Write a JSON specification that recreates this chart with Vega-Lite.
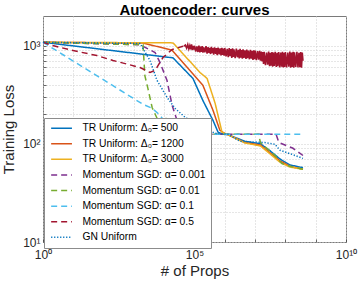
{
  "$schema": "https://vega.github.io/schema/vega-lite/v6.json",
  "width": 303,
  "height": 226,
  "autosize": {"type": "none"},
  "padding": {"left": 43, "top": 16, "right": 14, "bottom": 45},
  "title": {"text": "Autoencoder: curves", "fontSize": 15, "fontWeight": "bold", "color": "#000000", "anchor": "middle", "frame": "group", "baseline": "alphabetic", "offset": -14, "font": "Liberation Sans"},
  "datasets": {
    "lines": [
      {"s": "TR Uniform: Δ₀= 500", "x": 1, "y": 1080},
      {"s": "TR Uniform: Δ₀= 500", "x": 19500, "y": 750},
      {"s": "TR Uniform: Δ₀= 500", "x": 89000, "y": 462},
      {"s": "TR Uniform: Δ₀= 500", "x": 190000, "y": 275},
      {"s": "TR Uniform: Δ₀= 500", "x": 408000, "y": 173},
      {"s": "TR Uniform: Δ₀= 500", "x": 600000, "y": 131},
      {"s": "TR Uniform: Δ₀= 500", "x": 870000, "y": 125},
      {"s": "TR Uniform: Δ₀= 500", "x": 1260000, "y": 124},
      {"s": "TR Uniform: Δ₀= 500", "x": 4600000, "y": 106},
      {"s": "TR Uniform: Δ₀= 500", "x": 15000000, "y": 100},
      {"s": "TR Uniform: Δ₀= 500", "x": 31000000, "y": 85},
      {"s": "TR Uniform: Δ₀= 500", "x": 66000000, "y": 70},
      {"s": "TR Uniform: Δ₀= 500", "x": 140000000, "y": 61},
      {"s": "TR Uniform: Δ₀= 500", "x": 380000000, "y": 57},
      {"s": "TR Uniform: Δ₀= 1200", "x": 1, "y": 1080},
      {"s": "TR Uniform: Δ₀= 1200", "x": 2000, "y": 1060},
      {"s": "TR Uniform: Δ₀= 1200", "x": 18000, "y": 900},
      {"s": "TR Uniform: Δ₀= 1200", "x": 71000, "y": 557},
      {"s": "TR Uniform: Δ₀= 1200", "x": 190000, "y": 393},
      {"s": "TR Uniform: Δ₀= 1200", "x": 408000, "y": 219},
      {"s": "TR Uniform: Δ₀= 1200", "x": 690000, "y": 137},
      {"s": "TR Uniform: Δ₀= 1200", "x": 1100000, "y": 125},
      {"s": "TR Uniform: Δ₀= 1200", "x": 1260000, "y": 124},
      {"s": "TR Uniform: Δ₀= 1200", "x": 4600000, "y": 103},
      {"s": "TR Uniform: Δ₀= 1200", "x": 15000000, "y": 97},
      {"s": "TR Uniform: Δ₀= 1200", "x": 31000000, "y": 81},
      {"s": "TR Uniform: Δ₀= 1200", "x": 66000000, "y": 67},
      {"s": "TR Uniform: Δ₀= 1200", "x": 140000000, "y": 59},
      {"s": "TR Uniform: Δ₀= 1200", "x": 380000000, "y": 55},
      {"s": "TR Uniform: Δ₀= 3000", "x": 1, "y": 1080},
      {"s": "TR Uniform: Δ₀= 3000", "x": 19500, "y": 1065},
      {"s": "TR Uniform: Δ₀= 3000", "x": 152000, "y": 532},
      {"s": "TR Uniform: Δ₀= 3000", "x": 260000, "y": 463},
      {"s": "TR Uniform: Δ₀= 3000", "x": 480000, "y": 258},
      {"s": "TR Uniform: Δ₀= 3000", "x": 810000, "y": 131},
      {"s": "TR Uniform: Δ₀= 3000", "x": 1260000, "y": 124},
      {"s": "TR Uniform: Δ₀= 3000", "x": 4600000, "y": 102},
      {"s": "TR Uniform: Δ₀= 3000", "x": 15000000, "y": 95},
      {"s": "TR Uniform: Δ₀= 3000", "x": 31000000, "y": 79},
      {"s": "TR Uniform: Δ₀= 3000", "x": 66000000, "y": 65},
      {"s": "TR Uniform: Δ₀= 3000", "x": 140000000, "y": 58},
      {"s": "TR Uniform: Δ₀= 3000", "x": 380000000, "y": 55},
      {"s": "Momentum SGD: α= 0.001", "x": 1, "y": 1080},
      {"s": "Momentum SGD: α= 0.001", "x": 1600, "y": 1020},
      {"s": "Momentum SGD: α= 0.001", "x": 5000, "y": 850},
      {"s": "Momentum SGD: α= 0.001", "x": 7300, "y": 670},
      {"s": "Momentum SGD: α= 0.001", "x": 12400, "y": 440},
      {"s": "Momentum SGD: α= 0.001", "x": 18300, "y": 246},
      {"s": "Momentum SGD: α= 0.001", "x": 26500, "y": 173},
      {"s": "Momentum SGD: α= 0.001", "x": 49000, "y": 144},
      {"s": "Momentum SGD: α= 0.001", "x": 89000, "y": 128},
      {"s": "Momentum SGD: α= 0.001", "x": 150000, "y": 125},
      {"s": "Momentum SGD: α= 0.001", "x": 49000000, "y": 125},
      {"s": "Momentum SGD: α= 0.001", "x": 61000000, "y": 103},
      {"s": "Momentum SGD: α= 0.001", "x": 178000000, "y": 90},
      {"s": "Momentum SGD: α= 0.001", "x": 380000000, "y": 76},
      {"s": "Momentum SGD: α= 0.01", "x": 1, "y": 1080},
      {"s": "Momentum SGD: α= 0.01", "x": 2000, "y": 1020},
      {"s": "Momentum SGD: α= 0.01", "x": 2300, "y": 495},
      {"s": "Momentum SGD: α= 0.01", "x": 2900, "y": 366},
      {"s": "Momentum SGD: α= 0.01", "x": 4000, "y": 234},
      {"s": "Momentum SGD: α= 0.01", "x": 5800, "y": 182},
      {"s": "Momentum SGD: α= 0.01", "x": 9100, "y": 173},
      {"s": "Momentum SGD: α= 0.01", "x": 13400, "y": 186},
      {"s": "Momentum SGD: α= 0.01", "x": 29000, "y": 137},
      {"s": "Momentum SGD: α= 0.01", "x": 71000, "y": 125},
      {"s": "Momentum SGD: α= 0.01", "x": 13000000, "y": 125},
      {"s": "Momentum SGD: α= 0.01", "x": 15000000, "y": 103},
      {"s": "Momentum SGD: α= 0.01", "x": 45000000, "y": 76},
      {"s": "Momentum SGD: α= 0.01", "x": 77000000, "y": 63},
      {"s": "Momentum SGD: α= 0.01", "x": 140000000, "y": 59},
      {"s": "Momentum SGD: α= 0.01", "x": 380000000, "y": 55},
      {"s": "Momentum SGD: α= 0.1", "x": 1, "y": 1080},
      {"s": "Momentum SGD: α= 0.1", "x": 2000, "y": 252},
      {"s": "Momentum SGD: α= 0.1", "x": 4000, "y": 230},
      {"s": "Momentum SGD: α= 0.1", "x": 7300, "y": 195},
      {"s": "Momentum SGD: α= 0.1", "x": 12400, "y": 154},
      {"s": "Momentum SGD: α= 0.1", "x": 33000, "y": 128},
      {"s": "Momentum SGD: α= 0.1", "x": 60000, "y": 125},
      {"s": "Momentum SGD: α= 0.1", "x": 380000000, "y": 125},
      {"s": "Momentum SGD: α= 0.5", "x": 1, "y": 1080},
      {"s": "Momentum SGD: α= 0.5", "x": 2.1, "y": 1000},
      {"s": "Momentum SGD: α= 0.5", "x": 9.8, "y": 890},
      {"s": "Momentum SGD: α= 0.5", "x": 60, "y": 791},
      {"s": "Momentum SGD: α= 0.5", "x": 204, "y": 705},
      {"s": "Momentum SGD: α= 0.5", "x": 1600, "y": 598},
      {"s": "Momentum SGD: α= 0.5", "x": 3400, "y": 532},
      {"s": "Momentum SGD: α= 0.5", "x": 5000, "y": 558},
      {"s": "Momentum SGD: α= 0.5", "x": 9100, "y": 755},
      {"s": "Momentum SGD: α= 0.5", "x": 18000, "y": 910},
      {"s": "Momentum SGD: α= 0.5", "x": 39000, "y": 977},
      {"s": "Momentum SGD: α= 0.5", "x": 45000, "y": 985},
      {"s": "GN Uniform", "x": 1, "y": 1080},
      {"s": "GN Uniform", "x": 1600, "y": 1050},
      {"s": "GN Uniform", "x": 3400, "y": 705},
      {"s": "GN Uniform", "x": 5800, "y": 442},
      {"s": "GN Uniform", "x": 12400, "y": 297},
      {"s": "GN Uniform", "x": 23000, "y": 229},
      {"s": "GN Uniform", "x": 49000, "y": 186},
      {"s": "GN Uniform", "x": 152000, "y": 151},
      {"s": "GN Uniform", "x": 475000, "y": 128},
      {"s": "GN Uniform", "x": 1260000, "y": 125},
      {"s": "GN Uniform", "x": 3200000, "y": 106},
      {"s": "GN Uniform", "x": 21000000, "y": 103},
      {"s": "GN Uniform", "x": 45000000, "y": 99},
      {"s": "GN Uniform", "x": 66000000, "y": 86},
      {"s": "GN Uniform", "x": 165000000, "y": 78},
      {"s": "GN Uniform", "x": 380000000, "y": 71}
    ],
    "band": [
      {"x": 4.5e4, "y": 985}, {"x": 5e4, "y": 1010}, {"x": 5.5e4, "y": 940}, {"x": 6e4, "y": 1025}, {"x": 6.5e4, "y": 925}, {"x": 7e4, "y": 1000}, {"x": 7.5e4, "y": 915}, {"x": 8e4, "y": 1030}, {"x": 8.5e4, "y": 900}, {"x": 9e4, "y": 990}, {"x": 9.5e4, "y": 910},
      {"x": 1e5, "y": 995}, {"x": 1.1e5, "y": 870}, {"x": 1.2e5, "y": 980}, {"x": 1.3e5, "y": 860}, {"x": 1.4e5, "y": 1000}, {"x": 1.5e5, "y": 850}, {"x": 1.6e5, "y": 975}, {"x": 1.7e5, "y": 865}, {"x": 1.8e5, "y": 990}, {"x": 1.9e5, "y": 845}, {"x": 2e5, "y": 960}, {"x": 2.2e5, "y": 855}, {"x": 2.4e5, "y": 985}, {"x": 2.6e5, "y": 830}, {"x": 2.8e5, "y": 965}, {"x": 3e5, "y": 840}, {"x": 3.2e5, "y": 950}, {"x": 3.4e5, "y": 820}, {"x": 3.6e5, "y": 970}, {"x": 3.8e5, "y": 835}, {"x": 4e5, "y": 945}, {"x": 4.3e5, "y": 810}, {"x": 4.6e5, "y": 960}, {"x": 5e5, "y": 825}, {"x": 5.3e5, "y": 940}, {"x": 5.6e5, "y": 800}, {"x": 6e5, "y": 955}, {"x": 6.5e5, "y": 815}, {"x": 7e5, "y": 935}, {"x": 7.5e5, "y": 795}, {"x": 8e5, "y": 950}, {"x": 8.5e5, "y": 805}, {"x": 9e5, "y": 930}, {"x": 9.5e5, "y": 790},
      {"x": 1e6, "y": 945}, {"x": 1.1e6, "y": 775}, {"x": 1.2e6, "y": 925}, {"x": 1.3e6, "y": 760}, {"x": 1.4e6, "y": 940}, {"x": 1.5e6, "y": 780}, {"x": 1.6e6, "y": 920}, {"x": 1.7e6, "y": 750}, {"x": 1.8e6, "y": 935}, {"x": 1.9e6, "y": 765}, {"x": 2e6, "y": 915}, {"x": 2.2e6, "y": 745}, {"x": 2.4e6, "y": 930}, {"x": 2.6e6, "y": 760}, {"x": 2.8e6, "y": 905}, {"x": 3e6, "y": 740}, {"x": 3.2e6, "y": 925}, {"x": 3.4e6, "y": 755}, {"x": 3.6e6, "y": 900}, {"x": 3.8e6, "y": 735}, {"x": 4e6, "y": 915}, {"x": 4.3e6, "y": 750}, {"x": 4.6e6, "y": 895}, {"x": 5e6, "y": 730}, {"x": 5.3e6, "y": 910}, {"x": 5.6e6, "y": 745}, {"x": 6e6, "y": 890}, {"x": 6.5e6, "y": 725}, {"x": 7e6, "y": 905}, {"x": 7.5e6, "y": 735}, {"x": 8e6, "y": 885}, {"x": 8.5e6, "y": 715}, {"x": 9e6, "y": 895}, {"x": 9.5e6, "y": 725},
      {"x": 1e7, "y": 890}, {"x": 1.1e7, "y": 710}, {"x": 1.2e7, "y": 880}, {"x": 1.3e7, "y": 720}, {"x": 1.4e7, "y": 885}, {"x": 1.5e7, "y": 700}, {"x": 1.6e7, "y": 870}, {"x": 1.7e7, "y": 690}, {"x": 1.8e7, "y": 860}, {"x": 1.9e7, "y": 650}, {"x": 2e7, "y": 865}, {"x": 2.2e7, "y": 630}, {"x": 2.4e7, "y": 850}, {"x": 2.6e7, "y": 640}, {"x": 2.8e7, "y": 870}, {"x": 3e7, "y": 615}, {"x": 3.2e7, "y": 845}, {"x": 3.4e7, "y": 625}, {"x": 3.6e7, "y": 860}, {"x": 3.8e7, "y": 610}, {"x": 4e7, "y": 850}, {"x": 4.3e7, "y": 620}, {"x": 4.6e7, "y": 865}, {"x": 5e7, "y": 605}, {"x": 5.3e7, "y": 845}, {"x": 5.6e7, "y": 615}, {"x": 6e7, "y": 860}, {"x": 6.5e7, "y": 600}, {"x": 7e7, "y": 850}, {"x": 7.5e7, "y": 610}, {"x": 8e7, "y": 865}, {"x": 8.5e7, "y": 600}, {"x": 9e7, "y": 845}, {"x": 9.5e7, "y": 605},
      {"x": 1e8, "y": 860}, {"x": 1.1e8, "y": 598}, {"x": 1.2e8, "y": 850}, {"x": 1.3e8, "y": 608}, {"x": 1.4e8, "y": 868}, {"x": 1.5e8, "y": 596}, {"x": 1.6e8, "y": 848}, {"x": 1.7e8, "y": 604}, {"x": 1.8e8, "y": 862}, {"x": 1.9e8, "y": 595}, {"x": 2e8, "y": 852}, {"x": 2.2e8, "y": 606}, {"x": 2.4e8, "y": 866}, {"x": 2.6e8, "y": 598}, {"x": 2.8e8, "y": 845}, {"x": 3e8, "y": 602}, {"x": 3.2e8, "y": 860}, {"x": 3.4e8, "y": 596}, {"x": 3.6e8, "y": 850}, {"x": 3.8e8, "y": 700}
    ]
  },
  "encoding": {
    "x": {
      "field": "x", "type": "quantitative",
      "scale": {"type": "log", "domain": [1, 10000000000], "nice": false},
      "axis": {
        "title": "# of Props",
        "values": [1, 10, 100, 1000, 10000, 100000, 1000000, 10000000, 100000000, 1000000000, 10000000000],
        "labelExpr": "datum.value == 1 ? '10⁰' : datum.value == 100000 ? '10⁵' : datum.value == 10000000000 ? '10¹⁰' : ''",
        "labelFlush": false, "labelOverlap": false,
        "tickSize": -3, "labelPadding": 19, "labelBaseline": "alphabetic",
        "titleX": 151.5, "titleY": 33, "titleBaseline": "alphabetic", "titleAlign": "center"
      }
    },
    "y": {
      "field": "y", "type": "quantitative",
      "scale": {"type": "log", "domain": [10, 2000], "nice": false},
      "axis": {
        "title": "Training Loss",
        "values": [10, 20, 30, 40, 50, 60, 70, 80, 90, 100, 200, 300, 400, 500, 600, 700, 800, 900, 1000],
        "labelExpr": "datum.value == 10 ? '10¹' : datum.value == 100 ? '10²' : datum.value == 1000 ? '10³' : ''",
        "labelOverlap": false, "labelFlush": false,
        "tickSize": -3, "labelPadding": 6, "labelAlign": "right", "labelBaseline": "middle",
        "titleX": -30, "titleY": 113, "titleAngle": 270, "titleBaseline": "alphabetic", "titleAlign": "center"
      }
    }
  },
  "layer": [
    {
      "data": {"name": "lines"},
      "mark": {"type": "line", "strokeWidth": 1.5},
      "encoding": {
        "color": {
          "field": "s", "type": "nominal",
          "scale": {
            "domain": ["TR Uniform: Δ₀= 500", "TR Uniform: Δ₀= 1200", "TR Uniform: Δ₀= 3000", "Momentum SGD: α= 0.001", "Momentum SGD: α= 0.01", "Momentum SGD: α= 0.1", "Momentum SGD: α= 0.5", "GN Uniform"],
            "range": ["#0072BD", "#D95319", "#EDB120", "#7E2F8E", "#77AC30", "#4DBEEE", "#A2142F", "#0072BD"]
          },
          "legend": {"title": null}
        },
        "strokeDash": {
          "field": "s", "type": "nominal",
          "scale": {
            "domain": ["TR Uniform: Δ₀= 500", "TR Uniform: Δ₀= 1200", "TR Uniform: Δ₀= 3000", "Momentum SGD: α= 0.001", "Momentum SGD: α= 0.01", "Momentum SGD: α= 0.1", "Momentum SGD: α= 0.5", "GN Uniform"],
            "range": [[1, 0], [1, 0], [1, 0], [6, 4], [6, 4], [6, 4], [6, 4], [1.2, 1.8]]
          },
          "legend": {"title": null}
        }
      }
    },
    {
      "data": {"name": "band"},
      "mark": {"type": "line", "strokeWidth": 1.6, "color": "#A2142F"}
    }
  ],
  "config": {
    "font": "Liberation Sans",
    "view": {"stroke": "#7a7a7a", "strokeWidth": 1},
    "axis": {
      "domain": false,
      "grid": true,
      "gridColor": "#cccccc",
      "gridDash": [1, 2],
      "gridWidth": 1,
      "tickColor": "#404040",
      "tickWidth": 0.8,
      "labelColor": "#262626",
      "labelFont": "Liberation Sans",
      "labelFontSize": 12,
      "titleColor": "#262626",
      "titleFont": "Liberation Sans",
      "titleFontSize": 15,
      "titleFontWeight": "normal"
    },
    "legend": {
      "orient": "none",
      "legendX": 1,
      "legendY": 102,
      "padding": 5,
      "fillColor": "#ffffff",
      "strokeColor": "#8c8c8c",
      "symbolType": "M-2.6,0H2.6",
      "symbolSize": 64,
      "symbolStrokeWidth": 1.5,
      "symbolOffset": 7.4,
      "labelOffset": 15.7,
      "labelFont": "Liberation Sans",
      "labelFontSize": 10.3,
      "labelColor": "#000000",
      "labelLimit": 400,
      "rowPadding": 4.6,
      "cornerRadius": 0
    }
  }
}
